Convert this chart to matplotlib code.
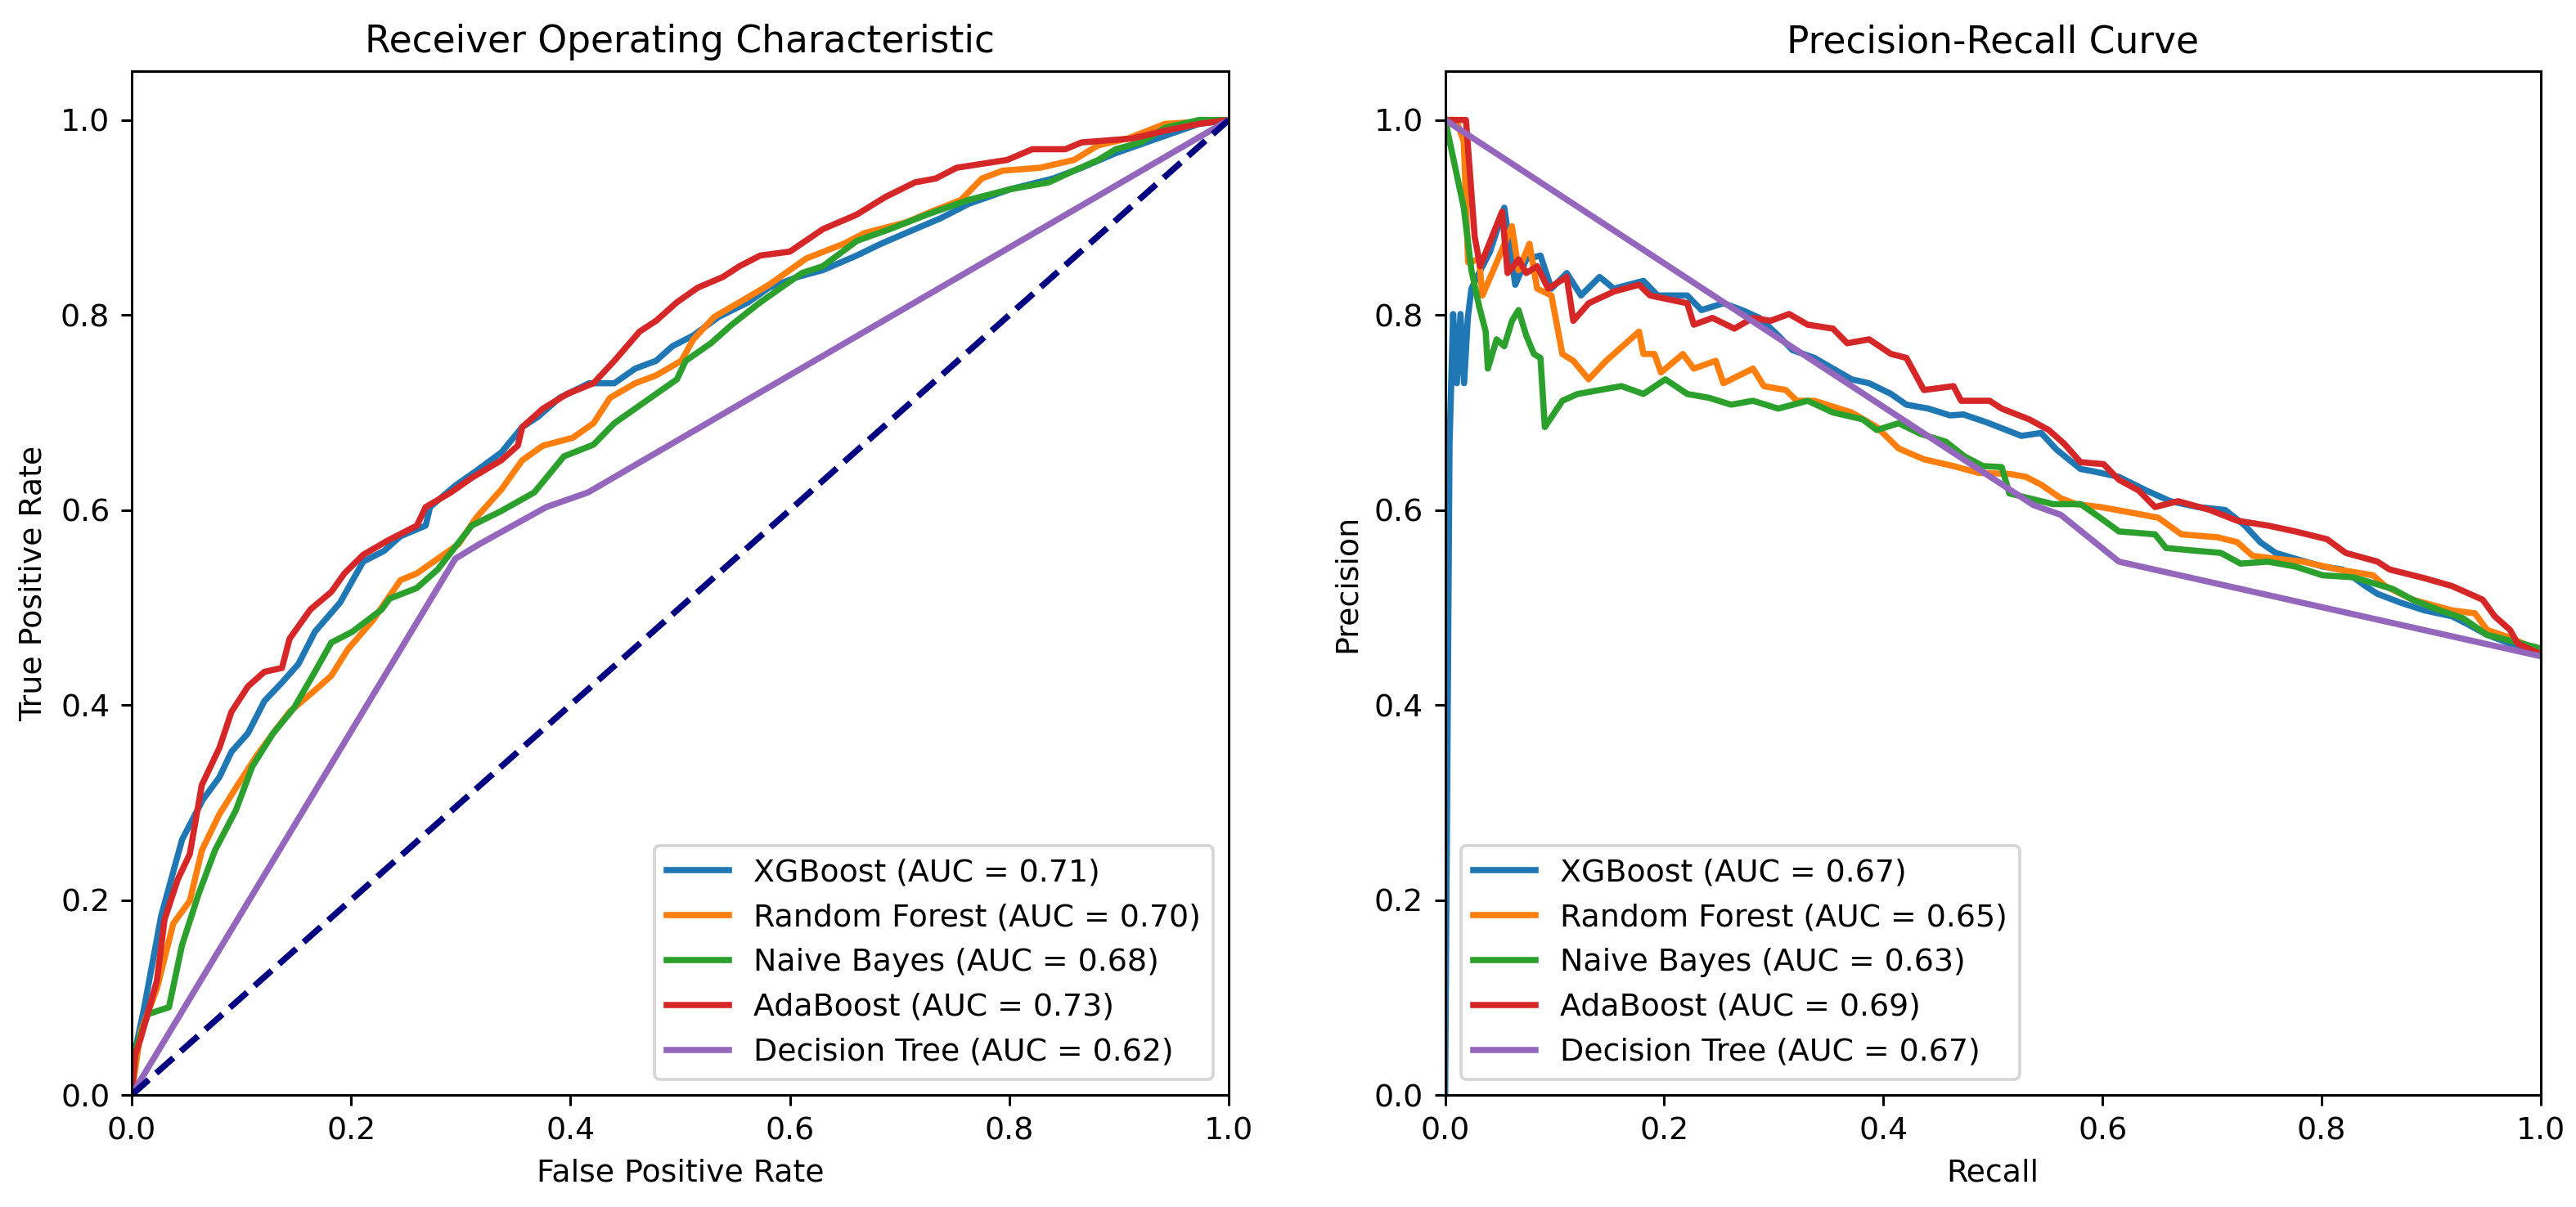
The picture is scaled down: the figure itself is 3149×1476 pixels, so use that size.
import matplotlib
matplotlib.use('Agg')
import matplotlib.pyplot as plt

models = ['XGBoost', 'Random Forest', 'Naive Bayes', 'AdaBoost', 'Decision Tree']
roc_auc = [0.71, 0.70, 0.68, 0.73, 0.62]
pr_auc = [0.67, 0.65, 0.63, 0.69, 0.67]

# ROC curves (fpr, tpr)
xgb_fpr = [0, 0.004, 0.011, 0.027, 0.046, 0.065, 0.08, 0.091, 0.106, 0.121, 0.137, 0.152, 0.167, 0.19,
           0.211, 0.23, 0.245, 0.268, 0.272, 0.295, 0.314, 0.337, 0.356, 0.371, 0.39, 0.417, 0.44, 0.459,
           0.478, 0.493, 0.512, 0.535, 0.562, 0.581, 0.607, 0.63, 0.661, 0.683, 0.714, 0.737, 0.763,
           0.801, 0.84, 0.866, 0.897, 0.935, 0.973, 1.0]
xgb_tpr = [0, 0.05, 0.087, 0.184, 0.262, 0.303, 0.326, 0.352, 0.371, 0.404, 0.423, 0.442, 0.475, 0.505,
           0.547, 0.558, 0.573, 0.584, 0.603, 0.625, 0.64, 0.659, 0.685, 0.696, 0.715, 0.73, 0.73, 0.745,
           0.753, 0.768, 0.779, 0.798, 0.813, 0.828, 0.839, 0.846, 0.861, 0.873, 0.888, 0.899, 0.914,
           0.929, 0.94, 0.951, 0.966, 0.981, 0.996, 1.0]

rf_fpr = [0, 0.008, 0.023, 0.038, 0.053, 0.064, 0.08, 0.095, 0.114, 0.129, 0.144, 0.167, 0.182, 0.197,
          0.22, 0.245, 0.26, 0.298, 0.314, 0.337, 0.356, 0.375, 0.402, 0.421, 0.436, 0.459, 0.478, 0.501,
          0.512, 0.531, 0.554, 0.581, 0.615, 0.649, 0.668, 0.706, 0.729, 0.756, 0.775, 0.794, 0.828,
          0.859, 0.881, 0.908, 0.942, 1.0]
rf_tpr = [0, 0.064, 0.109, 0.176, 0.199, 0.251, 0.288, 0.315, 0.348, 0.371, 0.393, 0.415, 0.43, 0.457,
          0.487, 0.528, 0.535, 0.565, 0.592, 0.621, 0.651, 0.666, 0.674, 0.689, 0.715, 0.73, 0.738, 0.753,
          0.775, 0.798, 0.813, 0.831, 0.858, 0.873, 0.884, 0.895, 0.906, 0.918, 0.94, 0.948, 0.951,
          0.959, 0.974, 0.981, 0.996, 1.0]

nb_fpr = [0, 0.004, 0.015, 0.034, 0.046, 0.061, 0.076, 0.095, 0.11, 0.129, 0.148, 0.167, 0.182, 0.201,
          0.228, 0.235, 0.26, 0.279, 0.31, 0.337, 0.367, 0.394, 0.421, 0.44, 0.459, 0.478, 0.497, 0.505,
          0.528, 0.547, 0.573, 0.611, 0.63, 0.661, 0.691, 0.725, 0.763, 0.801, 0.836, 0.859, 0.881,
          0.897, 0.92, 0.942, 0.973, 1.0]
nb_tpr = [0, 0.049, 0.083, 0.09, 0.154, 0.206, 0.251, 0.292, 0.337, 0.371, 0.397, 0.434, 0.464, 0.475,
          0.498, 0.509, 0.52, 0.539, 0.584, 0.599, 0.618, 0.655, 0.667, 0.689, 0.704, 0.719, 0.734, 0.753,
          0.771, 0.79, 0.813, 0.843, 0.85, 0.876, 0.888, 0.903, 0.918, 0.929, 0.936, 0.948, 0.959,
          0.97, 0.977, 0.992, 1.0, 1.0]

ada_fpr = [0, 0.003, 0.008, 0.023, 0.03, 0.042, 0.053, 0.064, 0.08, 0.091, 0.106, 0.121, 0.137, 0.144,
           0.163, 0.182, 0.194, 0.211, 0.234, 0.26, 0.268, 0.291, 0.31, 0.337, 0.352, 0.356, 0.375, 0.397,
           0.421, 0.44, 0.463, 0.478, 0.497, 0.516, 0.539, 0.554, 0.573, 0.6, 0.63, 0.661, 0.687, 0.714,
           0.733, 0.752, 0.798, 0.821, 0.851, 0.866, 0.912, 0.942, 0.973, 1.0]
ada_tpr = [0, 0.04, 0.057, 0.117, 0.18, 0.221, 0.247, 0.318, 0.356, 0.393, 0.419, 0.434, 0.438, 0.468,
           0.498, 0.516, 0.535, 0.554, 0.569, 0.584, 0.603, 0.618, 0.633, 0.651, 0.666, 0.685, 0.704, 0.719,
           0.73, 0.753, 0.783, 0.794, 0.813, 0.828, 0.839, 0.85, 0.861, 0.865, 0.888, 0.903, 0.921, 0.936,
           0.94, 0.951, 0.959, 0.97, 0.97, 0.977, 0.981, 0.989, 0.996, 1.0]

dt_fpr = [0, 0.295, 0.317, 0.378, 0.416, 1.0]
dt_tpr = [0, 0.55, 0.565, 0.603, 0.618, 1.0]

# Precision-recall curves (recall, precision)
xgb_rec = [0, 0.0, 0.004, 0.0073, 0.0107, 0.014, 0.0173, 0.0207, 0.024, 0.031, 0.041, 0.054, 0.064,
           0.074, 0.087, 0.097, 0.111, 0.124, 0.141, 0.154, 0.181, 0.194, 0.221, 0.234, 0.254, 0.271,
           0.287, 0.304, 0.317, 0.337, 0.354, 0.371, 0.387, 0.407, 0.421, 0.441, 0.461, 0.473, 0.494,
           0.526, 0.544, 0.558, 0.58, 0.59, 0.615, 0.64, 0.662, 0.687, 0.712, 0.73, 0.744, 0.758, 0.776,
           0.801, 0.819, 0.84, 0.851, 0.872, 0.894, 0.919, 0.933, 0.951, 0.972, 1.0]
xgb_prec = [0, 0.0, 0.667, 0.801, 0.73, 0.801, 0.73, 0.797, 0.827, 0.843, 0.865, 0.91, 0.831,
            0.857, 0.861, 0.827, 0.843, 0.82, 0.839, 0.827, 0.835, 0.82, 0.82, 0.805, 0.812, 0.805,
            0.797, 0.779, 0.764, 0.756, 0.745, 0.734, 0.73, 0.719, 0.708, 0.704, 0.697, 0.698, 0.69,
            0.676, 0.679, 0.662, 0.642, 0.64, 0.634, 0.62, 0.609, 0.603, 0.6, 0.584, 0.567, 0.556, 0.55,
            0.542, 0.539, 0.522, 0.514, 0.505, 0.497, 0.491, 0.483, 0.472, 0.463, 0.452]

rf_rec = [0, 0.01, 0.017, 0.021, 0.031, 0.034, 0.044, 0.061, 0.067, 0.077, 0.084, 0.097, 0.107, 0.117,
          0.131, 0.147, 0.177, 0.181, 0.191, 0.197, 0.217, 0.227, 0.247, 0.254, 0.281, 0.291, 0.311,
          0.321, 0.337, 0.371, 0.394, 0.414, 0.437, 0.464, 0.487, 0.515, 0.53, 0.544, 0.562, 0.576,
          0.598, 0.623, 0.651, 0.672, 0.705, 0.723, 0.737, 0.758, 0.783, 0.815, 0.847, 0.858, 0.883,
          0.919, 0.94, 0.951, 0.972, 1.0]
rf_prec = [1.0, 1.0, 0.978, 0.854, 0.857, 0.82, 0.846, 0.891, 0.846, 0.873, 0.827, 0.82, 0.76, 0.753,
           0.734, 0.753, 0.783, 0.76, 0.76, 0.741, 0.76, 0.745, 0.753, 0.73, 0.745, 0.727, 0.723,
           0.712, 0.712, 0.7, 0.685, 0.663, 0.652, 0.645, 0.638, 0.637, 0.634, 0.626, 0.612, 0.606,
           0.603, 0.598, 0.592, 0.575, 0.572, 0.567, 0.553, 0.55, 0.547, 0.539, 0.533, 0.522, 0.508,
           0.497, 0.494, 0.477, 0.469, 0.455]

nb_rec = [0, 0.017, 0.024, 0.031, 0.037, 0.039, 0.047, 0.054, 0.061, 0.067, 0.074, 0.081, 0.087, 0.091,
          0.107, 0.121, 0.141, 0.161, 0.181, 0.201, 0.221, 0.241, 0.261, 0.281, 0.304, 0.331, 0.354,
          0.381, 0.394, 0.414, 0.434, 0.457, 0.474, 0.491, 0.508, 0.515, 0.533, 0.555, 0.58, 0.598,
          0.615, 0.648, 0.658, 0.687, 0.708, 0.726, 0.751, 0.776, 0.801, 0.829, 0.847, 0.865, 0.883,
          0.908, 0.929, 0.951, 0.972, 1.0]
nb_prec = [1.0, 0.91, 0.846, 0.809, 0.783, 0.745, 0.775, 0.768, 0.794, 0.805, 0.779, 0.76, 0.756, 0.685,
           0.712, 0.719, 0.723, 0.727, 0.719, 0.734, 0.719, 0.715, 0.708, 0.712, 0.704, 0.712, 0.7,
           0.693, 0.682, 0.689, 0.678, 0.67, 0.655, 0.645, 0.644, 0.617, 0.612, 0.606, 0.606, 0.592,
           0.578, 0.575, 0.561, 0.558, 0.556, 0.545, 0.547, 0.542, 0.533, 0.531, 0.525, 0.519, 0.508,
           0.497, 0.489, 0.472, 0.466, 0.458]

ada_rec = [0, 0.019, 0.024, 0.027, 0.032, 0.052, 0.057, 0.067, 0.074, 0.084, 0.094, 0.111, 0.117, 0.131,
           0.154, 0.177, 0.187, 0.221, 0.227, 0.244, 0.264, 0.281, 0.297, 0.314, 0.331, 0.354, 0.367,
           0.387, 0.407, 0.421, 0.437, 0.464, 0.471, 0.497, 0.508, 0.533, 0.551, 0.565, 0.58, 0.601,
           0.615, 0.633, 0.648, 0.669, 0.698, 0.723, 0.751, 0.776, 0.805, 0.822, 0.851, 0.862, 0.894,
           0.919, 0.947, 0.958, 0.972, 0.979, 1.0]
ada_prec = [1.0, 1.0, 0.925, 0.88, 0.85, 0.906, 0.843, 0.857, 0.843, 0.85, 0.827, 0.839, 0.794, 0.812,
            0.824, 0.831, 0.82, 0.812, 0.79, 0.797, 0.786, 0.797, 0.794, 0.801, 0.79, 0.786, 0.771,
            0.775, 0.76, 0.756, 0.723, 0.727, 0.712, 0.712, 0.704, 0.693, 0.682, 0.668, 0.649, 0.647,
            0.631, 0.62, 0.603, 0.609, 0.6, 0.589, 0.584, 0.578, 0.57, 0.556, 0.547, 0.539, 0.53,
            0.522, 0.508, 0.491, 0.477, 0.463, 0.452]

dt_rec = [0, 0.537, 0.562, 0.615, 1.0]
dt_prec = [1.0, 0.605, 0.595, 0.547, 0.45]

roc_x = [xgb_fpr, rf_fpr, nb_fpr, ada_fpr, dt_fpr]
roc_y = [xgb_tpr, rf_tpr, nb_tpr, ada_tpr, dt_tpr]
pr_x = [xgb_rec, rf_rec, nb_rec, ada_rec, dt_rec]
pr_y = [xgb_prec, rf_prec, nb_prec, ada_prec, dt_prec]

dpi = 273
fig = plt.figure(figsize=(3149 / dpi, 1476 / dpi), dpi=dpi)
ax1 = fig.add_axes([0.0511, 0.0928, 0.4259, 0.8482])
ax2 = fig.add_axes([0.561, 0.0928, 0.4253, 0.8482])

for i, name in enumerate(models):
    ax1.plot(roc_x[i], roc_y[i], lw=2, label=f'{name} (AUC = {roc_auc[i]:.2f})')
ax1.plot([0, 1], [0, 1], color='navy', lw=2, linestyle='--')
ax1.set_xlim([0.0, 1.0])
ax1.set_ylim([0.0, 1.05])
ax1.set_xlabel('False Positive Rate')
ax1.set_ylabel('True Positive Rate')
ax1.set_title('Receiver Operating Characteristic')
ax1.legend(loc='lower right')

for i, name in enumerate(models):
    ax2.plot(pr_x[i], pr_y[i], lw=2, label=f'{name} (AUC = {pr_auc[i]:.2f})')
ax2.set_xlim([0.0, 1.0])
ax2.set_ylim([0.0, 1.05])
ax2.set_xlabel('Recall')
ax2.set_ylabel('Precision')
ax2.set_title('Precision-Recall Curve')
ax2.legend(loc='lower left')

fig.savefig('out.png', dpi=dpi)
